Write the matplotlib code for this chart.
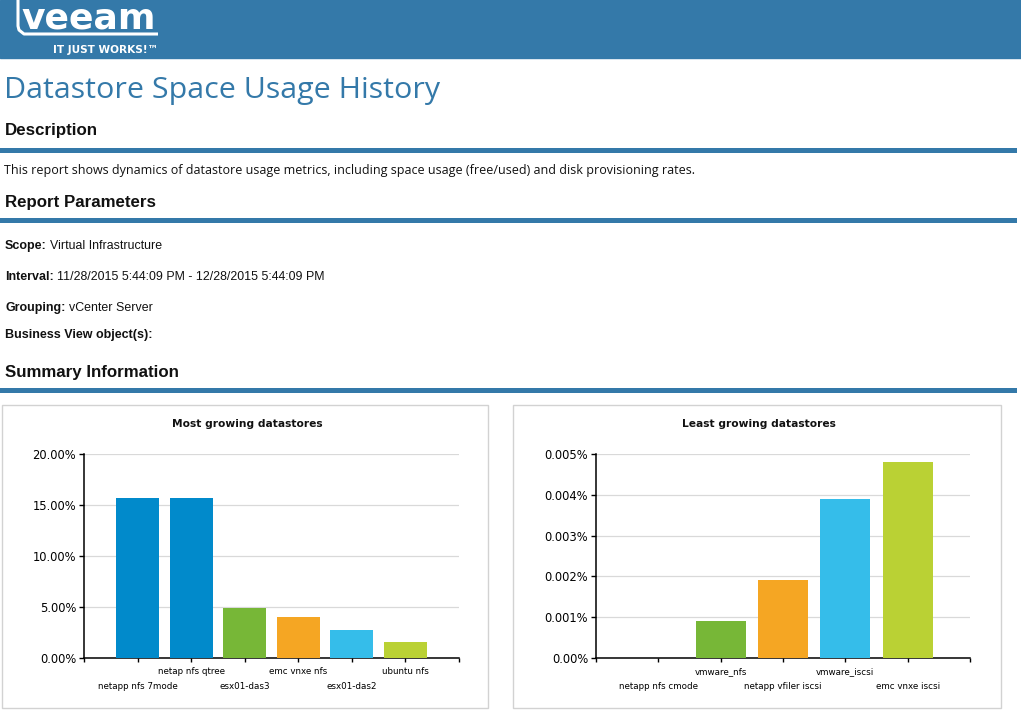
import matplotlib.pyplot as plt
from matplotlib.patches import Rectangle
from matplotlib.ticker import FuncFormatter

# Most growing datastores, growth in %
most_names = ['netapp nfs 7mode', 'netap nfs qtree', 'esx01-das3',
              'emc vnxe nfs', 'esx01-das2', 'ubuntu nfs']
most_values = [15.7, 15.7, 4.9, 4.0, 2.7, 1.6]
most_colors = ['#018acb', '#018acb', '#77b737', '#f5a623', '#35bdea', '#bad134']
most_ticks = [0, 5, 10, 15, 20]

# Least growing datastores, growth in %
least_names = ['netapp nfs cmode', 'vmware_nfs', 'netapp vfiler iscsi',
               'vmware_iscsi', 'emc vnxe iscsi']
least_values = [0.0, 0.0009, 0.0019, 0.0039, 0.0048]
least_colors = ['#018acb', '#77b737', '#f5a623', '#35bdea', '#bad134']
least_ticks = [0, 0.001, 0.002, 0.003, 0.004, 0.005]

param_labels = ['Scope:', 'Interval:', 'Grouping:', 'Business View object(s):']
param_values = ['Virtual Infrastructure',
                '11/28/2015 5:44:09 PM - 12/28/2015 5:44:09 PM',
                'vCenter Server', '']

description = ('This report shows dynamics of datastore usage metrics, including '
               'space usage (free/used) and disk provisioning rates.')

W, H = 1021, 714
BLUE = '#3479a9'

fig = plt.figure(figsize=(W / 100, H / 100), dpi=100)

# page background axes in pixel coordinates
bg = fig.add_axes([0, 0, 1, 1])
bg.set_xlim(0, W)
bg.set_ylim(H, 0)
bg.axis('off')

# header band + logo
bg.add_patch(Rectangle((0, 0), W, 58, color=BLUE))
bg.text(21, 28.5, 'veeam', color='white', fontsize=26, fontweight='bold', va='baseline')
bg.plot([18, 18, 19, 24, 158], [0, 26, 30, 34, 34], color='white', lw=2.2,
        solid_capstyle='butt')
bg.text(158, 53, 'IT JUST WORKS!\u2122', color='white', fontsize=7.6,
        fontweight='bold', ha='right', va='baseline')

bg.text(4, 98, 'Datastore Space Usage History', color=BLUE, fontsize=21.9,
        family='Open Sans', va='baseline')

hdr = dict(family='Liberation Sans', fontweight='bold', fontsize=12.2,
           color='#111111', va='baseline')
bg.text(5, 135, 'Description', **hdr)
bg.text(5, 207, 'Report Parameters', **hdr)
bg.text(5, 377, 'Summary Information', **hdr)
for y in [148, 218, 388]:
    bg.add_patch(Rectangle((0, y), 1017, 4.5, color=BLUE, lw=0))

bg.text(4, 174, description, family='Open Sans', fontsize=9.0, color='#111111',
        va='baseline')

for lab, val, y in zip(param_labels, param_values, [249, 280, 311, 338]):
    t = bg.text(5, y, lab, family='Liberation Sans', fontweight='bold',
                fontsize=9.0, color='#111111', va='baseline')
    if val:
        bg.annotate(val, xy=(1, 0), xycoords=t, xytext=(2.5, 0),
                    textcoords='offset points', family='Liberation Sans',
                    fontsize=8.9, color='#111111', va='bottom')

# chart boxes
bg.add_patch(Rectangle((2, 405), 486, 303, fill=False, ec='#d2d2d2', lw=1))
bg.add_patch(Rectangle((513, 405), 488, 303, fill=False, ec='#d2d2d2', lw=1))
bg.text(247, 424, 'Most growing datastores', fontsize=7.7, fontweight='bold',
        ha='center', va='center', color='#111111')
bg.text(759, 424, 'Least growing datastores', fontsize=7.7, fontweight='bold',
        ha='center', va='center', color='#111111')


def bar_chart(left, right, names, values, colors, ticks, fmt):
    ax = fig.add_axes([left / W, 1 - 658 / H, (right - left) / W, 204 / H])
    n = len(names)
    pos = list(range(1, n + 1))
    ax.bar(pos, values, width=0.8, color=colors, zorder=3)
    ax.set_xlim(0, n + 1)
    ax.set_ylim(ticks[0], ticks[-1])
    ax.set_yticks(ticks)
    ax.yaxis.set_major_formatter(FuncFormatter(fmt))
    ax.set_xticks(range(0, n + 2))
    ax.set_xticklabels([''] + names + [''])
    ax.grid(axis='y', color='#d9d9d9', lw=0.9, zorder=0)
    for s in ['top', 'right']:
        ax.spines[s].set_visible(False)
    for s in ['left', 'bottom']:
        ax.spines[s].set_linewidth(1.1)
    ax.tick_params(axis='y', length=3.6, width=1, labelsize=8.3, pad=2)
    ax.tick_params(axis='x', length=2.6, width=1, labelsize=6.3)
    for i, tk in enumerate(ax.xaxis.get_major_ticks()):
        tk.set_pad(4 if i % 2 == 0 else 15)
    return ax


bar_chart(84, 459, most_names, most_values, most_colors, most_ticks,
          lambda v, p: '{:.2f}%'.format(v))
bar_chart(596, 970, least_names, least_values, least_colors, least_ticks,
          lambda v, p: '0.00%' if v == 0 else '{:.3f}%'.format(v))

fig.savefig('out.png', dpi=100)
